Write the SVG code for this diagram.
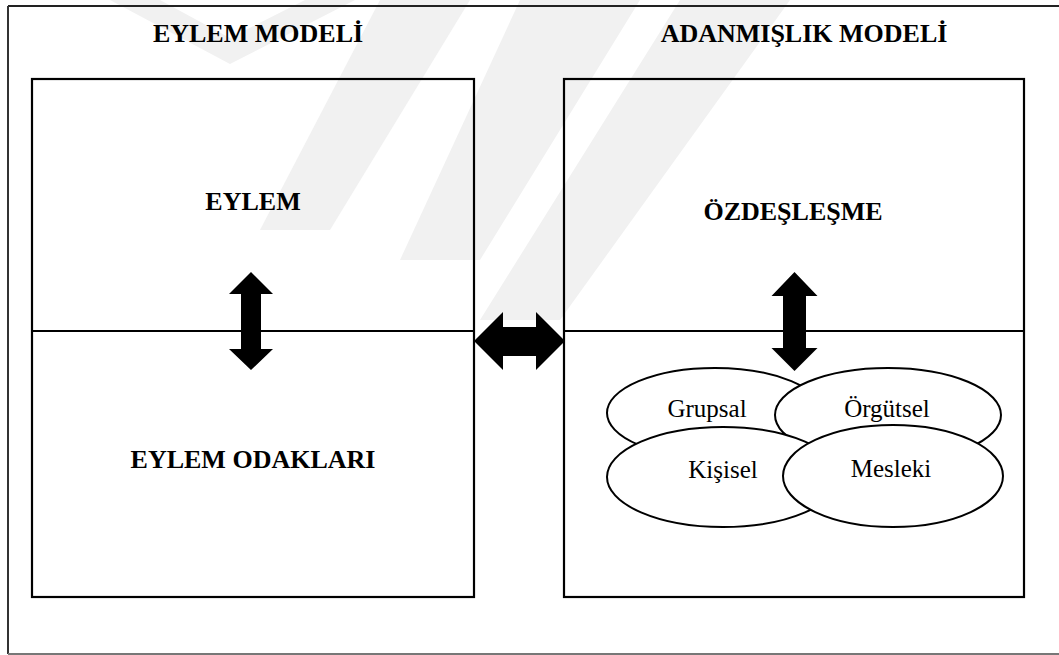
<svg xmlns="http://www.w3.org/2000/svg" width="1059" height="655" viewBox="0 0 1059 655">
  <style>
    .box { fill: none; stroke: #000; stroke-width: 2.2; }
    .ell { fill: #fff; stroke: #000; stroke-width: 2; }
    .title { font-family: "Liberation Serif", "Times New Roman", serif; font-weight: bold; font-size: 26px; fill: #000; text-anchor: middle; }
    .lbl { font-family: "Liberation Serif", "Times New Roman", serif; font-size: 25px; fill: #000; text-anchor: middle; }
    .arrow { fill: #000; stroke: none; }
    .wm { fill: #f1f1f1; stroke: none; }
  </style>
  <rect x="0" y="0" width="1059" height="655" fill="#fff"/>
  <g id="watermark">
    <polygon class="wm" points="110,0 230,64 355,0 305,0 230,38 160,0"/>
    <polygon class="wm" points="380,0 470,0 330,230 260,230"/>
    <polygon class="wm" points="520,0 640,0 480,260 400,260"/>
    <polygon class="wm" points="680,0 790,0 560,320 480,320"/>
  </g>
  <g id="frame">
    <line x1="8" y1="6" x2="1059" y2="6" stroke="#222" stroke-width="2"/>
    <line x1="8" y1="6" x2="8" y2="654" stroke="#333" stroke-width="2"/>
    <line x1="8" y1="654" x2="1059" y2="654" stroke="#777" stroke-width="2"/>
  </g>
  <g id="eylem-modeli">
    <text class="title" x="258" y="42">EYLEM MODELİ</text>
    <rect class="box" x="32" y="79" width="442" height="518"/>
    <line class="box" x1="32" y1="331" x2="474" y2="331"/>
    <g id="eylem"><text class="title" x="253" y="210">EYLEM</text></g>
    <g id="eylem-odaklari"><text class="title" x="253" y="468">EYLEM ODAKLARI</text></g>
  </g>
  <g id="adanmislik-modeli">
    <text class="title" x="804" y="42">ADANMIŞLIK MODELİ</text>
    <rect class="box" x="564" y="79" width="460" height="518"/>
    <line class="box" x1="564" y1="331" x2="1024" y2="331"/>
    <g id="ozdeslesme"><text class="title" x="793" y="220">ÖZDEŞLEŞME</text></g>
    <g id="grupsal">
      <ellipse class="ell" cx="715" cy="413" rx="108" ry="45"/>
      <text class="lbl" x="707" y="417">Grupsal</text>
    </g>
    <g id="orgutsel">
      <ellipse class="ell" cx="888" cy="415" rx="113" ry="47"/>
      <text class="lbl" x="887" y="417">Örgütsel</text>
    </g>
    <g id="kisisel">
      <ellipse class="ell" cx="723" cy="477" rx="116" ry="50"/>
      <text class="lbl" x="723" y="478">Kişisel</text>
    </g>
    <g id="mesleki">
      <ellipse class="ell" cx="893" cy="476" rx="110" ry="51"/>
      <text class="lbl" x="891" y="477">Mesleki</text>
    </g>
  </g>
  <g id="connectors">
    <polygon class="arrow" points="251,272 273,294 261,294 261,349 273,349 251,370 229,349 241,349 241,294 229,294"/>
    <polygon class="arrow" points="794.5,272 817.5,296 806,296 806,348 817.5,348 794.5,371 771.5,348 783,348 783,296 771.5,296"/>
    <polygon class="arrow" points="474,341 503,312 503,327 536,327 536,312 565,341 536,370 536,356 503,356 503,370"/>
  </g>
</svg>
